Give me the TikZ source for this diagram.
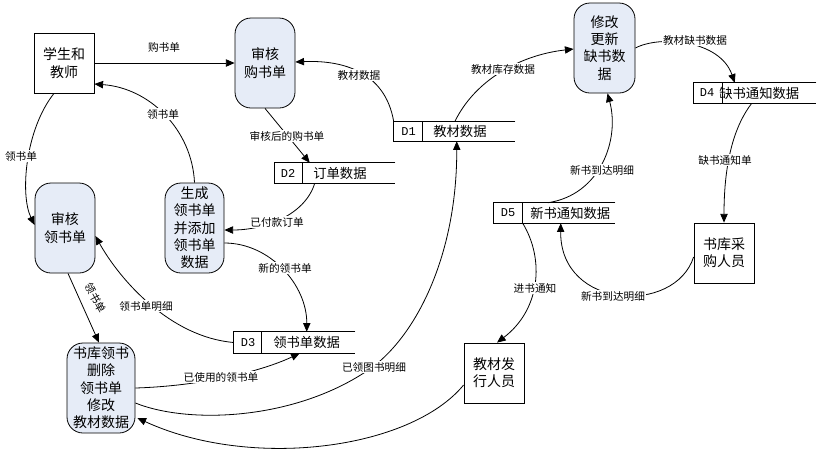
\documentclass[tikz,border=0pt]{standalone}
\usepackage{fontspec}
\setmainfont{Noto Sans CJK SC}
\newfontfamily\idfont{Liberation Mono}
\usetikzlibrary{arrows.meta,calc}
\definecolor{procfill}{RGB}{230,236,247}
\begin{document}
\begin{tikzpicture}[x=0.75pt,y=-0.75pt,
  proc/.style={draw, line width=0.6pt, fill=procfill, rounded corners=12pt, align=center, inner sep=0pt, font=\fontsize{10.5}{13}\selectfont, minimum width=45pt, minimum height=67.5pt},
  ext/.style={draw, line width=0.6pt, fill=white, align=center, inner sep=0pt, font=\fontsize{10.5}{13}\selectfont, minimum width=45pt, minimum height=45pt},
  store/.style={inner sep=0pt, minimum height=15pt},
  sid/.style={font=\idfont\fontsize{9}{10}\selectfont, inner sep=0pt},
  stxt/.style={font=\fontsize{10}{12}\selectfont, inner sep=0pt, anchor=west},
  lbl/.style={font=\fontsize{8}{9}\selectfont, fill=white, inner sep=1pt},
  flow/.style={line width=0.6pt, -{Triangle[length=6.5pt,width=5.5pt]}},
  sline/.style={line width=0.6pt}
]
\useasboundingbox (0,0) rectangle (817,455);

% external entities
\node[ext] (stu) at (64,63) {学生和\\教师};
\node[ext] (fx) at (494,373) {教材发\\行人员};
\node[ext] (cg) at (724,253) {书库采\\购人员};

% processes
\node[proc] (shg) at (265,63) {审核\\购书单};
\node[proc] (shl) at (65,228) {审核\\领书单};
\node[proc, minimum width=44.25pt] (sc) at (194.5,228) {生成\\领书单\\并添加\\领书单\\数据};
\node[proc, minimum width=51pt] (bk) at (101,388) {书库领书\\删除\\领书单\\修改\\教材数据};
\node[proc, minimum width=45.75pt] (mod) at (604.5,48) {修改\\更新\\缺书数\\据};

% data stores
\node[store, minimum width=90.75pt, minimum height=14.25pt] (d1) at (454.5,131.5) {};
\node[store, minimum width=90pt] (d2) at (335,173) {};
\node[store, minimum width=90.75pt, minimum height=15.75pt] (d3) at (294.5,342.5) {};
\node[store, minimum width=91.5pt] (d4) at (755,93) {};
\node[store, minimum width=90.75pt] (d5) at (554.5,213) {};
\foreach \s/\dx in {d1/29,d2/28,d3/28,d4/29,d5/29}{
  \draw[sline] (\s.north east) -- (\s.north west) -- (\s.south west) -- (\s.south east);
  \draw[sline] ($(\s.north west)+(\dx,0)$) -- ($(\s.south west)+(\dx,0)$);
}
\node[sid] (d1id) at (408.5,131.5) {D1};
\node[stxt] (d1t) at (433,131.5) {教材数据};
\node[sid] (d2id) at (288,173) {D2};
\node[stxt] (d2t) at (313,173) {订单数据};
\node[sid] (d3id) at (248,342.5) {D3};
\node[stxt] (d3t) at (273,342.5) {领书单数据};
\node[sid] (d4id) at (707,93) {D4};
\node[stxt] (d4t) at (719,93) {缺书通知数据};
\node[sid] (d5id) at (508,213) {D5};
\node[stxt] (d5t) at (530,213) {新书通知数据};

\coordinate (m1) at (374,366);

% flows
\draw[flow] (stu.east) -- (shg.west);
\draw[flow] (sc.north) .. controls (192,130) and (150,88) .. ($(stu.east)+(0,21)$);
\draw[flow] ($(stu.south)+(-10,0)$) .. controls (25,130) and (20,195) .. ($(shl.west)+(0,-3)$);
\draw[flow] (shg.south) -- ($(d2.north west)+(35,0)$);
\draw[flow] ($(d2.south west)+(40,0)$) .. controls (305,215) and (265,230) .. ($(sc.east)+(0,2)$);
\draw[flow] ($(sc.east)+(0,15)$) .. controls (270,243) and (307,285) .. ($(d3.north west)+(73,0)$);
\draw[flow] (d3.west) .. controls (170,337) and (120,280) .. ($(shl.east)+(0,8)$);
\draw[flow] ($(shl.south)+(3,0)$) -- ($(bk.north)+(-2,0)$);
\draw[flow] (bk.east) .. controls (200,386) and (260,372) .. ($(d3.south west)+(66,0)$);
\draw[flow] ($(bk.east)+(0,15)$) .. controls (190,425) and (300,420) .. (m1) .. controls (420,330) and (457,250) .. ($(d1.south west)+(63,0)$);
\draw[flow] ($(fx.west)+(0,12)$) .. controls (410,450) and (250,470) .. ($(bk.east)+(2,30)$);
\draw[flow] (d1.north west) .. controls (385,70) and (340,60) .. ($(shg.east)+(0,-1)$);
\draw[flow] ($(d1.north west)+(61,0)$) .. controls (475,80) and (520,55) .. ($(mod.west)+(0,1)$);
\draw[flow] ($(d5.north west)+(54,0)$) .. controls (600,195) and (620,140) .. ($(mod.south)+(3,0)$);
\draw[flow] (mod.east) .. controls (660,35) and (720,40) .. ($(d4.north west)+(41,0)$);
\draw[flow] ($(d4.south west)+(58,0)$) .. controls (735,125) and (724,160) .. (cg.north);
\draw[flow] ($(cg.west)+(0,4)$) .. controls (675,315) and (560,310) .. ($(d5.south west)+(67,0)$);
\draw[flow] ($(d5.south west)+(29,0)$) .. controls (545,260) and (540,310) .. ($(fx.north)+(3,0)$);

% labels
\node[lbl] (l1) at (164,47) {购书单};
\node[lbl] (l2) at (163,114) {领书单};
\node[lbl] (l3) at (21,156) {领书单};
\node[lbl] (l4) at (287,136) {审核后的购书单};
\node[lbl] (l5) at (277,222) {已付款订单};
\node[lbl] (l6) at (285,268) {新的领书单};
\node[lbl] (l7) at (146,306) {领书单明细};
\node[lbl, rotate=-62] (l8) at (96,298) {领书单};
\node[lbl] (l9) at (221,377) {已使用的领书单};
\node[lbl] (l10) at (374,367) {已领图书明细};
\node[lbl] (l11) at (359,75) {教材数据};
\node[lbl] (l12) at (503,69) {教材库存数据};
\node[lbl] (l13) at (602,170) {新书到达明细};
\node[lbl] (l14) at (695,40) {教材缺书数据};
\node[lbl] (l15) at (725,160) {缺书通知单};
\node[lbl] (l16) at (613,296) {新书到达明细};
\node[lbl] (l17) at (535,288) {进书通知};
\end{tikzpicture}
\end{document}
